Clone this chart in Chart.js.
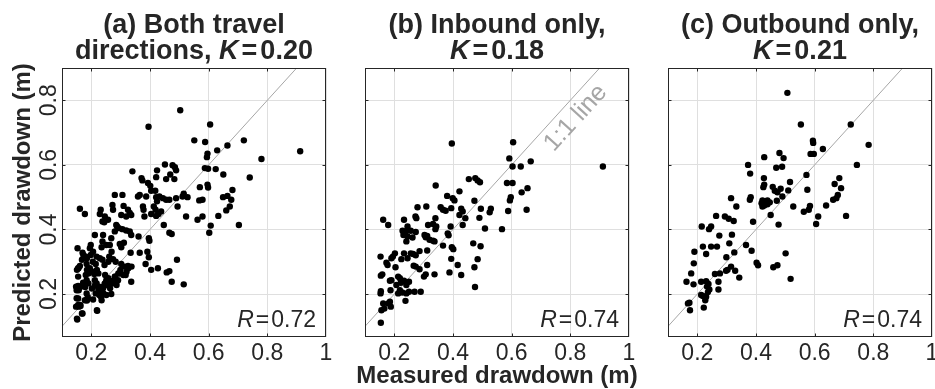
<!DOCTYPE html>
<html>
<head>
<meta charset="utf-8">
<script src="https://cdn.jsdelivr.net/npm/chart.js@4.4.1/dist/chart.umd.min.js"></script>
<style>
html, body { margin: 0; padding: 0; background: #fff; width: 935px; height: 389px; overflow: hidden; }
.panel { position: absolute; top: 0; height: 389px; }
</style>
</head>
<body>
<div class="panel" style="left:0;width:340px"><canvas id="chart-a"></canvas></div>
<div class="panel" style="left:340px;width:300px"><canvas id="chart-b"></canvas></div>
<div class="panel" style="left:640px;width:300px"><canvas id="chart-c"></canvas></div>
<script>
// 数据: 实测 / 预测 下沉量 (m)
const aMeasured = [0.503,0.395,0.605,0.551,0.588,0.720,0.664,0.629,0.596,0.594,0.912,0.780,0.340,0.424,0.451,0.477,0.485,0.489,0.587,0.598,
  0.624,0.650,0.740,0.371,0.421,0.455,0.483,0.469,0.401,0.393,0.374,0.570,0.596,0.598,0.404,0.418,0.280,0.306,0.359,0.365,
  0.387,0.421,0.432,0.444,0.455,0.466,0.489,0.511,0.528,0.515,0.568,0.579,0.649,0.664,0.681,0.677,0.672,0.660,0.633,0.703,
  0.607,0.602,0.579,0.562,0.523,0.494,0.424,0.413,0.419,0.429,0.438,0.421,0.404,0.376,0.378,0.381,0.447,0.466,0.474,0.396,
  0.398,0.361,0.272,0.274,0.310,0.325,0.331,0.336,0.302,0.319,0.232,0.229,0.238,0.246,0.257,0.244,0.161,0.178,0.285,0.288,
  0.294,0.306,0.319,0.331,0.336,0.280,0.212,0.240,0.268,0.263,0.251,0.238,0.235,0.198,0.195,0.297,0.302,0.311,0.334,0.365,
  0.391,0.396,0.385,0.404,0.427,0.457,0.466,0.492,0.474,0.515,0.153,0.170,0.181,0.198,0.206,0.218,0.229,0.238,0.261,0.269,
  0.274,0.283,0.302,0.314,0.325,0.299,0.294,0.317,0.336,0.161,0.155,0.184,0.195,0.206,0.210,0.181,0.155,0.148,0.155,0.150,
  0.172,0.184,0.212,0.218,0.223,0.229,0.235,0.240,0.246,0.251,0.263,0.274,0.280,0.291,0.215,0.227,0.240,0.268,0.235,0.220,
  0.184,0.178,0.150,0.155,0.148,0.163,0.170,0.152,0.251,0.206,
  0.173,0.185,0.168,0.156,0.151,0.185,0.190,0.219,0.224,0.155,0.151,0.162,0.157,0.179,0.190,0.202,0.213,0.224,0.230,0.236,
  0.241,0.233,0.155,0.157,0.162,0.188,0.185,0.219,0.168,0.151,0.247,0.258,0.281,0.292,0.309,0.320,0.326,0.337,0.270,0.286,
  0.253,0.264,0.205,0.215,0.245,0.258];
const aPredicted = [0.769,0.718,0.725,0.676,0.671,0.676,0.660,0.645,0.635,0.624,0.642,0.618,0.580,0.583,0.601,0.599,0.593,0.583,0.590,0.588,
  0.587,0.570,0.561,0.559,0.562,0.556,0.556,0.570,0.535,0.544,0.552,0.531,0.539,0.530,0.520,0.520,0.507,0.507,0.502,0.507,
  0.502,0.500,0.502,0.497,0.492,0.492,0.497,0.502,0.500,0.511,0.490,0.492,0.500,0.504,0.522,0.492,0.471,0.459,0.442,0.414,
  0.412,0.390,0.440,0.430,0.440,0.471,0.487,0.471,0.461,0.448,0.456,0.442,0.448,0.471,0.461,0.440,0.414,0.390,0.386,0.373,
  0.365,0.378,0.476,0.461,0.473,0.461,0.451,0.445,0.445,0.440,0.461,0.448,0.425,0.440,0.430,0.422,0.464,0.448,0.414,0.409,
  0.404,0.401,0.397,0.394,0.383,0.394,0.383,0.383,0.373,0.352,0.352,0.363,0.345,0.352,0.342,0.355,0.345,0.359,0.328,0.328,
  0.331,0.314,0.293,0.275,0.280,0.267,0.271,0.306,0.238,0.230,0.342,0.328,0.316,0.321,0.331,0.316,0.311,0.306,0.316,0.331,
  0.308,0.300,0.293,0.285,0.287,0.275,0.264,0.259,0.238,0.287,0.280,0.293,0.280,0.269,0.262,0.259,0.254,0.223,0.225,0.212,
  0.235,0.243,0.243,0.233,0.223,0.212,0.207,0.218,0.233,0.243,0.233,0.241,0.254,0.243,0.202,0.197,0.202,0.200,0.181,0.148,
  0.202,0.181,0.187,0.166,0.161,0.163,0.140,0.121,0.197,0.183,
  0.321,0.311,0.306,0.280,0.275,0.275,0.264,0.275,0.264,0.222,0.217,0.222,0.212,0.222,0.233,0.217,0.228,0.217,0.212,0.222,
  0.202,0.192,0.186,0.161,0.166,0.190,0.180,0.150,0.140,0.124,0.259,0.249,0.254,0.264,0.259,0.269,0.280,0.285,0.233,0.228,
  0.228,0.218,0.300,0.293,0.290,0.300];

const bMeasured = [0.396,0.605,0.592,0.665,0.603,0.631,0.911,0.341,0.454,0.476,0.484,0.492,0.584,0.603,0.654,0.634,0.597,0.594,0.422,0.380,
  0.399,0.405,0.473,0.588,0.651,0.279,0.309,0.358,0.366,0.375,0.394,0.428,0.433,0.422,0.442,0.495,0.529,0.525,0.490,0.340,
  0.272,0.275,0.233,0.162,0.179,0.315,0.332,0.343,0.340,0.245,0.392,0.433,0.509,0.567,0.228,0.239,0.256,0.273,0.231,0.245,
  0.262,0.241,0.303,0.307,0.312,0.332,0.337,0.320,0.382,0.385,0.366,0.396,0.401,0.469,0.494,0.153,0.202,0.195,0.190,0.173,
  0.177,0.204,0.224,0.233,0.245,0.256,0.264,0.273,0.286,0.312,0.266,0.273,0.286,0.312,0.337,0.307,0.301,0.394,0.416,0.388,
  0.428,0.473,0.484,0.475,0.159,0.154,0.190,0.185,0.213,0.219,0.222,0.207,0.233,0.250,0.241,0.219,0.227,0.213,0.241,0.250,
  0.269,0.290,0.154,0.153,0.187,0.238,0.162,0.185,0.179,0.188,0.156,0.166,0.154];
const bPredicted = [0.666,0.670,0.620,0.611,0.595,0.595,0.595,0.536,0.556,0.559,0.552,0.546,0.544,0.544,0.528,0.515,0.500,0.490,0.518,0.504,
  0.497,0.490,0.489,0.457,0.461,0.469,0.471,0.469,0.461,0.458,0.466,0.464,0.456,0.445,0.435,0.464,0.464,0.453,0.436,0.435,
  0.440,0.435,0.430,0.430,0.414,0.414,0.417,0.409,0.401,0.409,0.409,0.414,0.403,0.401,0.396,0.394,0.396,0.392,0.383,0.378,
  0.375,0.363,0.383,0.376,0.380,0.365,0.363,0.368,0.388,0.382,0.350,0.345,0.339,0.357,0.348,0.316,0.326,0.316,0.311,0.297,
  0.290,0.283,0.308,0.326,0.311,0.326,0.324,0.320,0.333,0.335,0.288,0.285,0.277,0.290,0.261,0.261,0.254,0.309,0.290,0.267,
  0.259,0.283,0.308,0.222,0.261,0.257,0.243,0.241,0.254,0.249,0.235,0.228,0.241,0.238,0.228,0.212,0.205,0.202,0.202,0.207,
  0.207,0.207,0.209,0.202,0.212,0.179,0.171,0.176,0.171,0.161,0.150,0.155,0.111];

const cMeasured = [0.507,0.553,0.723,0.784,0.594,0.595,0.628,0.586,0.597,0.480,0.494,0.428,0.469,0.489,0.373,0.380,0.744,0.572,0.427,0.428,
  0.425,0.457,0.464,0.484,0.516,0.510,0.473,0.490,0.575,0.684,0.668,0.690,0.679,0.674,0.663,0.639,0.707,0.315,0.382,0.379,
  0.333,0.422,0.439,0.419,0.428,0.439,0.447,0.471,0.422,0.527,0.450,0.584,0.580,0.563,0.612,0.605,0.477,0.264,0.294,0.307,
  0.324,0.390,0.215,0.247,0.240,0.275,0.318,0.309,0.366,0.219,0.247,0.267,0.190,0.230,0.326,0.385,0.299,0.188,0.501,0.402,
  0.407,0.315,0.303,0.298,0.329,0.277,0.260,0.343,0.459,0.473,0.518,0.179,0.163,0.187,0.213,0.230,0.238,0.233,0.272,0.272,
  0.241,0.236,0.213,0.219,0.230,0.227,0.168,0.173,0.175,0.222];
const cPredicted = [0.823,0.725,0.725,0.662,0.675,0.668,0.649,0.634,0.634,0.637,0.621,0.624,0.591,0.594,0.600,0.573,0.600,0.569,0.559,0.539,
  0.531,0.532,0.520,0.526,0.547,0.521,0.515,0.502,0.523,0.559,0.541,0.528,0.507,0.497,0.492,0.474,0.442,0.497,0.500,0.492,
  0.471,0.490,0.490,0.481,0.474,0.478,0.484,0.489,0.471,0.471,0.445,0.473,0.461,0.455,0.440,0.417,0.415,0.442,0.440,0.433,
  0.426,0.424,0.409,0.409,0.401,0.381,0.384,0.357,0.352,0.347,0.347,0.347,0.331,0.324,0.329,0.334,0.314,0.295,0.326,0.297,
  0.289,0.285,0.275,0.272,0.272,0.264,0.262,0.251,0.283,0.289,0.247,0.264,0.238,0.230,0.238,0.240,0.231,0.223,0.238,0.214,
  0.214,0.206,0.197,0.194,0.192,0.181,0.171,0.173,0.150,0.158];

// 坐标轴刻度与文字
const xTicks = [0.2, 0.4, 0.6, 0.8, 1];
const xTickLabels = ['0.2', '0.4', '0.6', '0.8', '1'];
const yTicks = [0.2, 0.4, 0.6, 0.8];
const yTickLabels = ['0.2', '0.4', '0.6', '0.8'];
const oneToOne = [0.05, 1.05];
const titleTop = ['(a) Both travel', '(b) Inbound only,', '(c) Outbound only,'];
const titleBottom = ['directions, ', '', ''];
const kValues = ['0.20', '0.18', '0.21'];
const rValues = ['0.72', '0.74', '0.74'];
const xTitle = 'Measured drawdown (m)';
const yTitle = 'Predicted drawdown (m)';
const lineLabel = '1:1 line';

const family = "'Liberation Sans', Arial, Helvetica, sans-serif";
const textColor = '#262626';
const gridColor = '#dfdfdf';

Chart.defaults.font.family = family;
Chart.defaults.color = textColor;

// 多字体文字
function drawRich(ctx, segs, x, y, align) {
    let total = 0;
    segs.forEach(s => {
        ctx.font = s.font;
        s.w = ctx.measureText(s.text).width;
        total += s.w + (s.gap || 0);
    });
    let cx = align === 'right' ? x - total : x - total / 2;
    segs.forEach(s => {
        ctx.font = s.font;
        ctx.fillText(s.text, cx, y);
        cx += s.w + (s.gap || 0);
    });
}

// 边框, 刻度, 标题, 轴标题, R 值, 1:1 标注
const panelDecor = {
    id: 'panelDecor',
    afterDraw(chart, args, o) {
        const ctx = chart.ctx;
        const a = chart.chartArea;
        const sx = chart.scales.x;
        const sy = chart.scales.y;
        ctx.save();

        if (o.showLineLabel) {
            const px = sx.getPixelForValue(0.778);
            const py = sy.getPixelForValue(0.778);
            const ang = Math.atan2(sy.getPixelForValue(1) - sy.getPixelForValue(0),
                                   sx.getPixelForValue(1) - sx.getPixelForValue(0));
            ctx.translate(px, py);
            ctx.rotate(ang);
            ctx.font = '25px ' + family;
            ctx.fillStyle = '#a6a6a6';
            ctx.textAlign = 'center';
            ctx.textBaseline = 'middle';
            ctx.fillText(lineLabel, 0, 16);
            ctx.setTransform(1, 0, 0, 1, 0, 0);
        }

        ctx.strokeStyle = textColor;
        ctx.lineWidth = 1;
        const L = Math.round(a.left), T = Math.round(a.top);
        const R = Math.round(a.right), B = Math.round(a.bottom);
        ctx.strokeRect(L + 0.5, T + 0.5, R - L - 1, B - T - 1);
        ctx.beginPath();
        xTicks.forEach(v => {
            const p = Math.round(sx.getPixelForValue(v)) + 0.5;
            if (p < R - 2) {
                ctx.moveTo(p, B); ctx.lineTo(p, B - 3.5);
                ctx.moveTo(p, T); ctx.lineTo(p, T + 3.5);
            }
        });
        yTicks.forEach(v => {
            const p = Math.round(sy.getPixelForValue(v)) + 0.5;
            ctx.moveTo(L, p); ctx.lineTo(L + 3.5, p);
            ctx.moveTo(R, p); ctx.lineTo(R - 3.5, p);
        });
        ctx.stroke();

        ctx.fillStyle = textColor;
        ctx.textAlign = 'left';
        ctx.textBaseline = 'alphabetic';
        const cx = (a.left + a.right) / 2;
        const bf = 'bold 27px ' + family;
        const bif = 'italic bold 27px ' + family;
        drawRich(ctx, [{text: titleTop[o.idx], font: bf}], cx, 33);
        const line2 = [];
        if (titleBottom[o.idx]) line2.push({text: titleBottom[o.idx], font: bf});
        line2.push({text: 'K', font: bif, gap: 3});
        line2.push({text: '=', font: bf, gap: 3});
        line2.push({text: kValues[o.idx], font: bf});
        drawRich(ctx, line2, cx, 59);

        drawRich(ctx, [
            {text: 'R', font: 'italic 23px ' + family, gap: 2},
            {text: '=', font: '23px ' + family, gap: 2},
            {text: rValues[o.idx], font: '23px ' + family}
        ], a.right - 10, a.bottom - 10, 'right');

        // 轴标题 (不压缩宽度)
        ctx.font = 'bold 24px ' + family;
        ctx.textAlign = 'center';
        if (o.showXTitle) {
            ctx.fillText(xTitle, cx, 383);
        }
        if (o.showYTitle) {
            ctx.translate(30, (a.top + a.bottom) / 2);
            ctx.rotate(-Math.PI / 2);
            ctx.fillText(yTitle, 0, 0);
            ctx.setTransform(1, 0, 0, 1, 0, 0);
        }
        ctx.restore();
    }
};

function makePanel(id, xs, ys, cfg) {
    const points = xs.map((x, i) => ({x: x, y: ys[i]}));
    return new Chart(document.getElementById(id), {
        type: 'scatter',
        data: {
            datasets: [
                {
                    type: 'line',
                    data: oneToOne.map(v => ({x: v, y: v})),
                    borderColor: '#a6a6a6',
                    borderWidth: 1,
                    pointRadius: 0,
                    order: 2
                },
                {
                    data: points,
                    backgroundColor: '#000',
                    borderWidth: 0,
                    pointRadius: 3.2,
                    order: 1
                }
            ]
        },
        options: {
            responsive: true,
            maintainAspectRatio: false,
            animation: false,
            devicePixelRatio: 1,
            layout: { padding: { top: 68, right: cfg.padRight, left: 0, bottom: 0 } },
            plugins: {
                legend: { display: false },
                tooltip: { enabled: false },
                panelDecor: cfg
            },
            scales: {
                x: {
                    type: 'linear',
                    min: 0.1,
                    max: 1,
                    afterBuildTicks: s => { s.ticks = xTicks.map(v => ({value: v})); },
                    afterFit: s => { s.height = 52; s.paddingLeft = 0; s.paddingRight = 0; },
                    grid: { color: gridColor, drawTicks: false },
                    border: { display: false },
                    ticks: {
                        font: { size: 23 },
                        color: textColor,
                        padding: 3,
                        maxRotation: 0,
                        autoSkip: false,
                        callback: (v, i) => xTickLabels[i]
                    }
                },
                y: {
                    type: 'linear',
                    min: 0.067,
                    max: 0.9,
                    afterBuildTicks: s => { s.ticks = yTicks.map(v => ({value: v})); },
                    afterFit: s => { s.width = cfg.yWidth; s.paddingTop = 0; s.paddingBottom = 0; },
                    grid: { color: gridColor, drawTicks: false },
                    border: { display: false },
                    ticks: {
                        display: cfg.showYTitle,
                        font: { size: 23 },
                        color: textColor,
                        padding: -4,
                        minRotation: 90,
                        maxRotation: 90,
                        crossAlign: 'center',
                        autoSkip: false,
                        callback: (v, i) => yTickLabels[i]
                    }
                }
            }
        },
        plugins: [panelDecor]
    });
}

makePanel('chart-a', aMeasured, aPredicted, { idx: 0, padRight: 14, yWidth: 62, showYTitle: true, showXTitle: false, showLineLabel: false });
makePanel('chart-b', bMeasured, bPredicted, { idx: 1, padRight: 11, yWidth: 25, showYTitle: false, showXTitle: true, showLineLabel: true });
makePanel('chart-c', cMeasured, cPredicted, { idx: 2, padRight: 8, yWidth: 28, showYTitle: false, showXTitle: false, showLineLabel: false });
</script>
</body>
</html>
